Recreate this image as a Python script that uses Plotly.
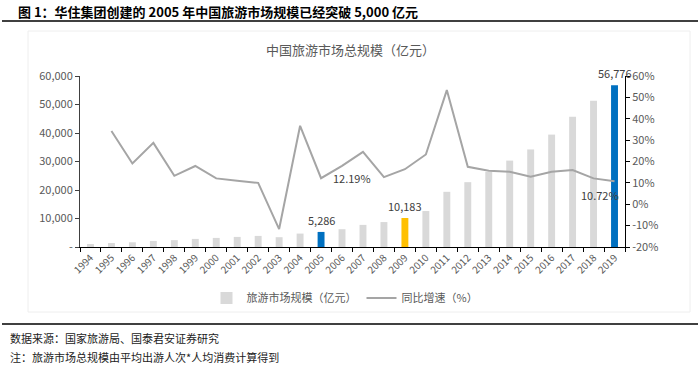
import plotly.graph_objects as go

years = [str(y) for y in range(1994, 2020)]
market_size = [1034, 1388, 1653, 2127, 2410, 2841, 3185, 3536, 3890, 3439, 4712, 5286,
               6237, 7762, 8748, 10183, 12620, 19360, 22750, 26320, 30320, 34231, 39434,
               45744, 51279, 56776]
growth = [None, 34.3, 19.1, 28.7, 13.3, 17.9, 12.1, 11.0, 10.0, -11.6, 36.7, 12.19,
          18.0, 24.5, 12.7, 16.4, 23.3, 53.4, 17.5, 15.7, 15.2, 12.9, 15.2, 16.0, 12.1, 10.72]
highlight = {"2005": "#0070C0", "2009": "#FFC000", "2019": "#0070C0"}
bar_labels = ["2005", "2009", "2019"]
line_labels = ["2005", "2019"]

left_ticks = [0, 10000, 20000, 30000, 40000, 50000, 60000]
left_text = ["-", "10,000", "20,000", "30,000", "40,000", "50,000", "60,000"]
right_ticks = [-20, -10, 0, 10, 20, 30, 40, 50, 60]
right_text = [f"{v}%" for v in right_ticks]

W, H = 700, 367
L, R, T, B = 80, 75, 76, 120
pw, ph = W - L - R, H - T - B


def px(x):
    return (x - L) / pw


def py(y):
    return (H - B - y) / ph


FONT = "Noto Sans CJK SC"
TXT = "#595959"

colors = [highlight.get(y, "#D9D9D9") for y in years]

fig = go.Figure()
fig.add_trace(go.Bar(x=years, y=market_size, name="旅游市场规模（亿元）",
                     marker=dict(color=colors, line=dict(width=0)), width=0.33))
fig.add_trace(go.Scatter(x=years, y=growth, name="同比增速（%）", yaxis="y2",
                         mode="lines", line=dict(color="#A5A5A5", width=2)))

ann = []
for yr in bar_labels:
    i = years.index(yr)
    v = market_size[i]
    ann.append(dict(x=i, y=v, xref="x", yref="y", text=f"{v:,}", showarrow=False,
                    yanchor="bottom", yshift=2, font=dict(size=11, color="#404040", family=FONT)))
i = years.index("2005")
g = growth[i]
ann.append(dict(x=i, y=g, xref="x", yref="y2", text=f"{g:.2f}%", showarrow=False,
                xanchor="left", xshift=10, yanchor="middle",
                font=dict(size=11, color="#404040", family=FONT)))
i = years.index("2019")
g = growth[i]
ann.append(dict(x=i, y=g, xref="x", yref="y2", text=f"{g:.2f}%", showarrow=False,
                xanchor="center", xshift=-15, yshift=-14, yanchor="middle",
                font=dict(size=11, color="#404040", family=FONT)))

ann.append(dict(x=px(16), y=py(11), xref="paper", yref="paper", xanchor="left", yanchor="middle",
                text="<b>图 1：华住集团创建的 2005 年中国旅游市场规模已经突破 5,000 亿元</b>",
                showarrow=False, font=dict(size=13, color="#000000", family=FONT)))
ann.append(dict(x=px(350), y=py(50), xref="paper", yref="paper", xanchor="center", yanchor="middle",
                text="中国旅游市场总规模（亿元）", showarrow=False,
                font=dict(size=13, color=TXT, family=FONT)))
ann.append(dict(x=px(8), y=py(338), xref="paper", yref="paper", xanchor="left", yanchor="middle",
                text="数据来源：国家旅游局、国泰君安证券研究", showarrow=False,
                font=dict(size=11, color="#222222", family=FONT)))
ann.append(dict(x=px(8), y=py(357), xref="paper", yref="paper", xanchor="left", yanchor="middle",
                text="注：旅游市场总规模由平均出游人次*人均消费计算得到", showarrow=False,
                font=dict(size=11, color="#222222", family=FONT)))

shapes = [
    dict(type="line", xref="paper", yref="paper", x0=px(2), x1=px(698), y0=py(21), y1=py(21),
         line=dict(color="#000000", width=1.5)),
    dict(type="line", xref="paper", yref="paper", x0=px(2), x1=px(698), y0=py(324), y1=py(324),
         line=dict(color="#000000", width=1.5)),
    dict(type="rect", xref="paper", yref="paper", x0=px(28), x1=px(690), y0=py(31), y1=py(312),
         line=dict(color="#EEEEEE", width=1)),
]

fig.update_layout(
    width=W, height=H,
    margin=dict(l=L, r=R, t=T, b=B),
    paper_bgcolor="white", plot_bgcolor="white",
    font=dict(family=FONT, color=TXT, size=10),
    showlegend=True,
    legend=dict(orientation="h", x=px(345), xanchor="center", y=py(298), yanchor="middle",
                font=dict(size=11, color=TXT, family=FONT), itemwidth=30,
                bgcolor="rgba(0,0,0,0)"),
    xaxis=dict(type="category", showgrid=False, showline=True, linecolor="#000000", linewidth=1,
               ticks="outside", tickson="boundaries", ticklen=4, tickcolor="#000000",
               tickangle=-45, tickfont=dict(size=10, color=TXT), range=[-0.5, 25.5]),
    yaxis=dict(range=[0, 60000], tickvals=left_ticks, ticktext=left_text, showgrid=False,
               showline=True, linecolor="#404040", linewidth=1, ticks="outside", ticklen=4,
               tickcolor="#404040", tickfont=dict(size=11, color=TXT), zeroline=False),
    yaxis2=dict(range=[-20, 60], tickvals=right_ticks, ticktext=right_text, overlaying="y",
                side="right", showgrid=False, showline=True, linecolor="#000000", linewidth=1,
                ticks="outside", ticklen=4, tickcolor="#000000",
                tickfont=dict(size=11, color=TXT), zeroline=False),
    annotations=ann,
    shapes=shapes,
)

fig.write_html("out.html", config={"displayModeBar": False},
               post_script="document.body.style.margin='0';")
